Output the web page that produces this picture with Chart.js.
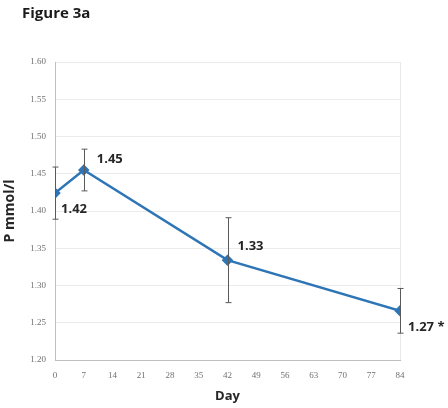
<!DOCTYPE html>
<html>
<head>
<meta charset="utf-8">
<script src="https://cdn.jsdelivr.net/npm/chart.js@4"></script>
<style>
  html, body { margin: 0; padding: 0; background: #fff; }
  #wrap { width: 448px; height: 408px; }
</style>
</head>
<body>
<div id="wrap"><canvas id="fig3a" width="448" height="408"></canvas></div>
<script>
// Figure 3a - P mmol/l over days
const days = [0, 7, 42, 84];
const pMeans = [1.424, 1.455, 1.334, 1.266];
const pErrors = [0.035, 0.028, 0.057, 0.030];
const pLabels = ['1.42', '1.45', '1.33', '1.27 *'];
const dayTicks = [0, 7, 14, 21, 28, 35, 42, 49, 56, 63, 70, 77, 84];
const yTicks = [1.20, 1.25, 1.30, 1.35, 1.40, 1.45, 1.50, 1.55, 1.60];

// label offsets next to each point
const labelPos = [
    { dx: 6, dy: 16 },
    { dx: 13, dy: -11 },
    { dx: 10, dy: -14 },
    { dx: 8, dy: 16 }
];

const errorBars = {
    id: 'errorBars',
    afterDatasetsDraw(chart) {
        const ctx = chart.ctx;
        const xs = chart.scales.x, ys = chart.scales.y;
        ctx.save();
        ctx.strokeStyle = '#5a5a5a';
        ctx.lineWidth = 1;
        days.forEach((d, i) => {
            const x = Math.round(xs.getPixelForValue(d)) + 0.5;
            const top = ys.getPixelForValue(pMeans[i] + pErrors[i]);
            const bot = ys.getPixelForValue(pMeans[i] - pErrors[i]);
            ctx.beginPath();
            ctx.moveTo(x, top); ctx.lineTo(x, bot);
            ctx.moveTo(x - 3, top); ctx.lineTo(x + 3, top);
            ctx.moveTo(x - 3, bot); ctx.lineTo(x + 3, bot);
            ctx.stroke();
        });
        // point labels
        ctx.fillStyle = '#262626';
        ctx.font = 'bold 13px "Open Sans", Arial, sans-serif';
        ctx.textBaseline = 'middle';
        ctx.textAlign = 'left';
        days.forEach((d, i) => {
            const x = xs.getPixelForValue(d);
            const y = ys.getPixelForValue(pMeans[i]);
            ctx.fillText(pLabels[i], x + labelPos[i].dx, y + labelPos[i].dy);
        });
        // figure caption
        ctx.font = 'bold 15px "Open Sans", Arial, sans-serif';
        ctx.fillStyle = '#1a1a1a';
        ctx.fillText('Figure 3a', 22, 14);
        ctx.restore();
    }
};

new Chart(document.getElementById('fig3a'), {
    type: 'line',
    data: {
        datasets: [{
            data: days.map((d, i) => ({ x: d, y: pMeans[i] })),
            borderColor: '#2e75b6',
            backgroundColor: '#2e75b6',
            borderWidth: 2.5,
            pointStyle: 'rectRot',
            pointRadius: 4,
            tension: 0
        }]
    },
    options: {
        responsive: false,
        animation: false,
        layout: { padding: { left: 2, right: 48, top: 62, bottom: 0 } },
        plugins: { legend: { display: false }, tooltip: { enabled: false } },
        scales: {
            x: {
                type: 'linear',
                min: 0,
                max: 84,
                afterBuildTicks: axis => { axis.ticks = dayTicks.map(v => ({ value: v })); },
                afterFit: axis => { axis.height = 48; },
                grid: {
                    color: c => c.tick && c.tick.value === 84 ? '#e8e8e8' : 'rgba(0,0,0,0)',
                    drawTicks: false
                },
                border: { color: '#bfbfbf' },
                ticks: {
                    color: '#707070',
                    font: { size: 9, family: '"Liberation Serif", serif' },
                    padding: 10,
                    maxRotation: 0
                },
                title: {
                    display: true,
                    text: 'Day',
                    color: '#262626',
                    font: { size: 13, weight: 'bold', family: '"Open Sans", Arial, sans-serif' },
                    padding: { top: 2, bottom: 4 }
                }
            },
            y: {
                min: 1.20,
                max: 1.60,
                afterBuildTicks: axis => { axis.ticks = yTicks.map(v => ({ value: v })); },
                afterFit: axis => { axis.width = 53; },
                grid: { color: '#ececec', drawTicks: false },
                border: { color: '#bfbfbf' },
                ticks: {
                    color: '#707070',
                    font: { size: 9, family: '"Liberation Serif", serif' },
                    padding: 9,
                    callback: v => v.toFixed(2)
                },
                title: {
                    display: true,
                    text: 'P mmol/l',
                    color: '#262626',
                    font: { size: 14, weight: 'bold', family: '"Open Sans", Arial, sans-serif' },
                    padding: { top: 0, bottom: 2 }
                }
            }
        }
    },
    plugins: [errorBars]
});
</script>
</body>
</html>
